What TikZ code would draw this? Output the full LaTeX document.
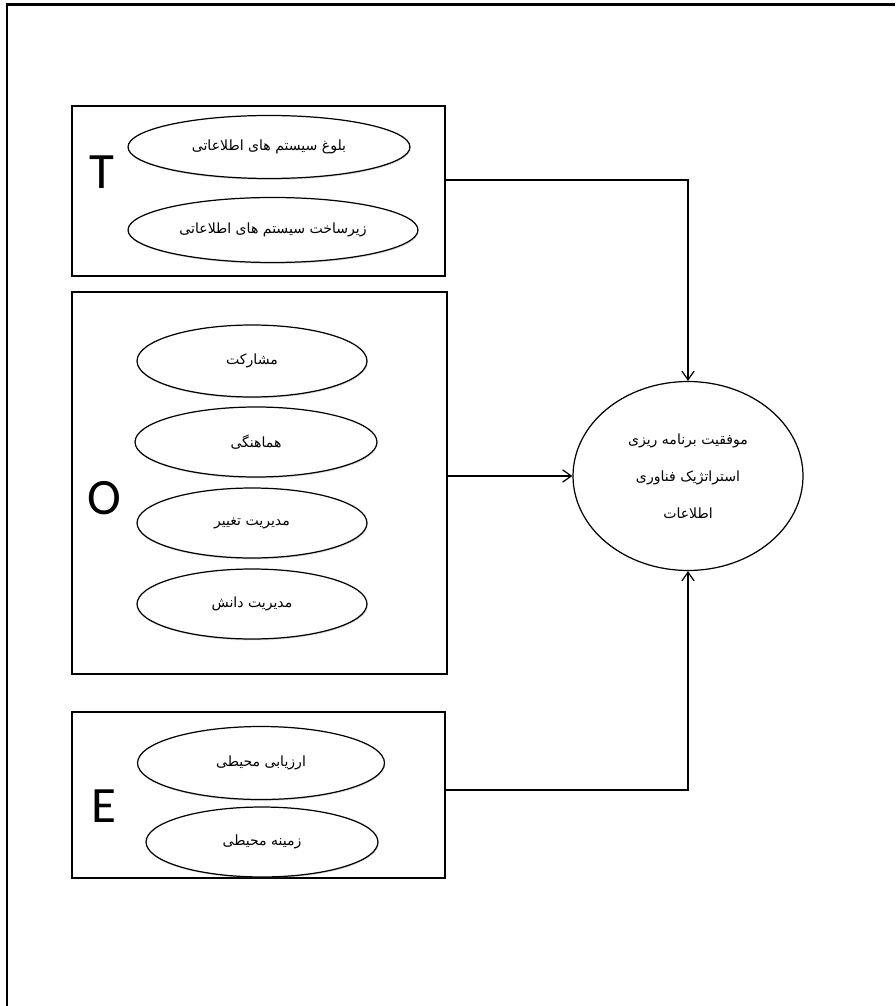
\documentclass[tikz,border=0pt]{standalone}
\usepackage{fontspec}
\usepackage{tikz}
\usetikzlibrary{arrows.meta,shadows,shapes.geometric}
\TeXXeTstate=1
\newfontfamily\farsifont[Script=Arabic]{DejaVu Sans}
\newfontfamily\letterfont{Carlito}
\newcommand{\fa}[1]{\farsifont\beginR #1\endR}

\begin{document}
\begin{tikzpicture}[x=0.02cm,y=-0.02cm,
    groupbox/.style={draw,line width=0.7pt,inner sep=0pt},
    factor/.style={ellipse,draw,line width=0.7pt,fill=white,inner sep=0pt,
        font=\farsifont\fontsize{8}{10}\selectfont,
        drop shadow={opacity=0.25,shadow xshift=0.4pt,shadow yshift=-0.8pt}},
    letter/.style={font=\letterfont\fontsize{29}{30}\selectfont,inner sep=0pt},
    >={Straight Barb[length=5pt,width=7pt]}]

\useasboundingbox (0,0) rectangle (895,1006);

% outer frame (top and left edge)
\draw[line width=1.7pt] (7,1006) -- (7,5) -- (895,5);

% group boxes
\node[groupbox,minimum width=7.46cm,minimum height=3.4cm] (tbox) at (258.5,191) {};
\node[groupbox,minimum width=7.5cm,minimum height=7.64cm] (obox) at (259.5,483) {};
\node[groupbox,minimum width=7.46cm,minimum height=3.32cm] (ebox) at (258.5,795) {};

% group letters
\node[letter] (tl) at (102,172) {T};
\node[letter] (ol) at (104,498) {O};
\node[letter] (el) at (104,806) {E};

% T factors
\node[factor,minimum width=5.64cm,minimum height=1.26cm] (t1) at (269,147) {\fa{بلوغ سیستم های اطلاعاتی}};
\node[factor,minimum width=5.8cm,minimum height=1.3cm] (t2) at (273,230) {\fa{زیرساخت سیستم های اطلاعاتی}};

% O factors
\node[factor,minimum width=4.6cm,minimum height=1.44cm] (o1) at (252,361) {\fa{مشارکت}};
\node[factor,minimum width=4.84cm,minimum height=1.4cm] (o2) at (256,442) {\fa{هماهنگی}};
\node[factor,minimum width=4.6cm,minimum height=1.4cm] (o3) at (252,523) {\fa{مدیریت تغییر}};
\node[factor,minimum width=4.6cm,minimum height=1.4cm] (o4) at (252,604) {\fa{مدیریت دانش}};

% E factors
\node[factor,minimum width=4.94cm,minimum height=1.46cm] (e1) at (261,763) {\fa{ارزیابی محیطی}};
\node[factor,minimum width=4.64cm,minimum height=1.4cm] (e2) at (262,842) {\fa{زمینه محیطی}};

% outcome
\node[ellipse,draw,line width=0.7pt,minimum width=4.6cm,minimum height=3.78cm,
    align=center,font=\farsifont\fontsize{8}{21}\selectfont] (goal) at (688,476)
    {\fa{موفقیت برنامه ریزی}\\\fa{استراتژیک فناوری}\\\fa{اطلاعات}};

% connectors
\coordinate (tout) at (445,180);
\coordinate (eout) at (445,790);
\draw[->,line width=0.7pt] (tout) -| (goal.north);
\draw[->,line width=0.7pt] (obox.east |- goal.west) -- (goal.west);
\draw[->,line width=0.7pt] (eout) -| (goal.south);

\end{tikzpicture}
\end{document}
